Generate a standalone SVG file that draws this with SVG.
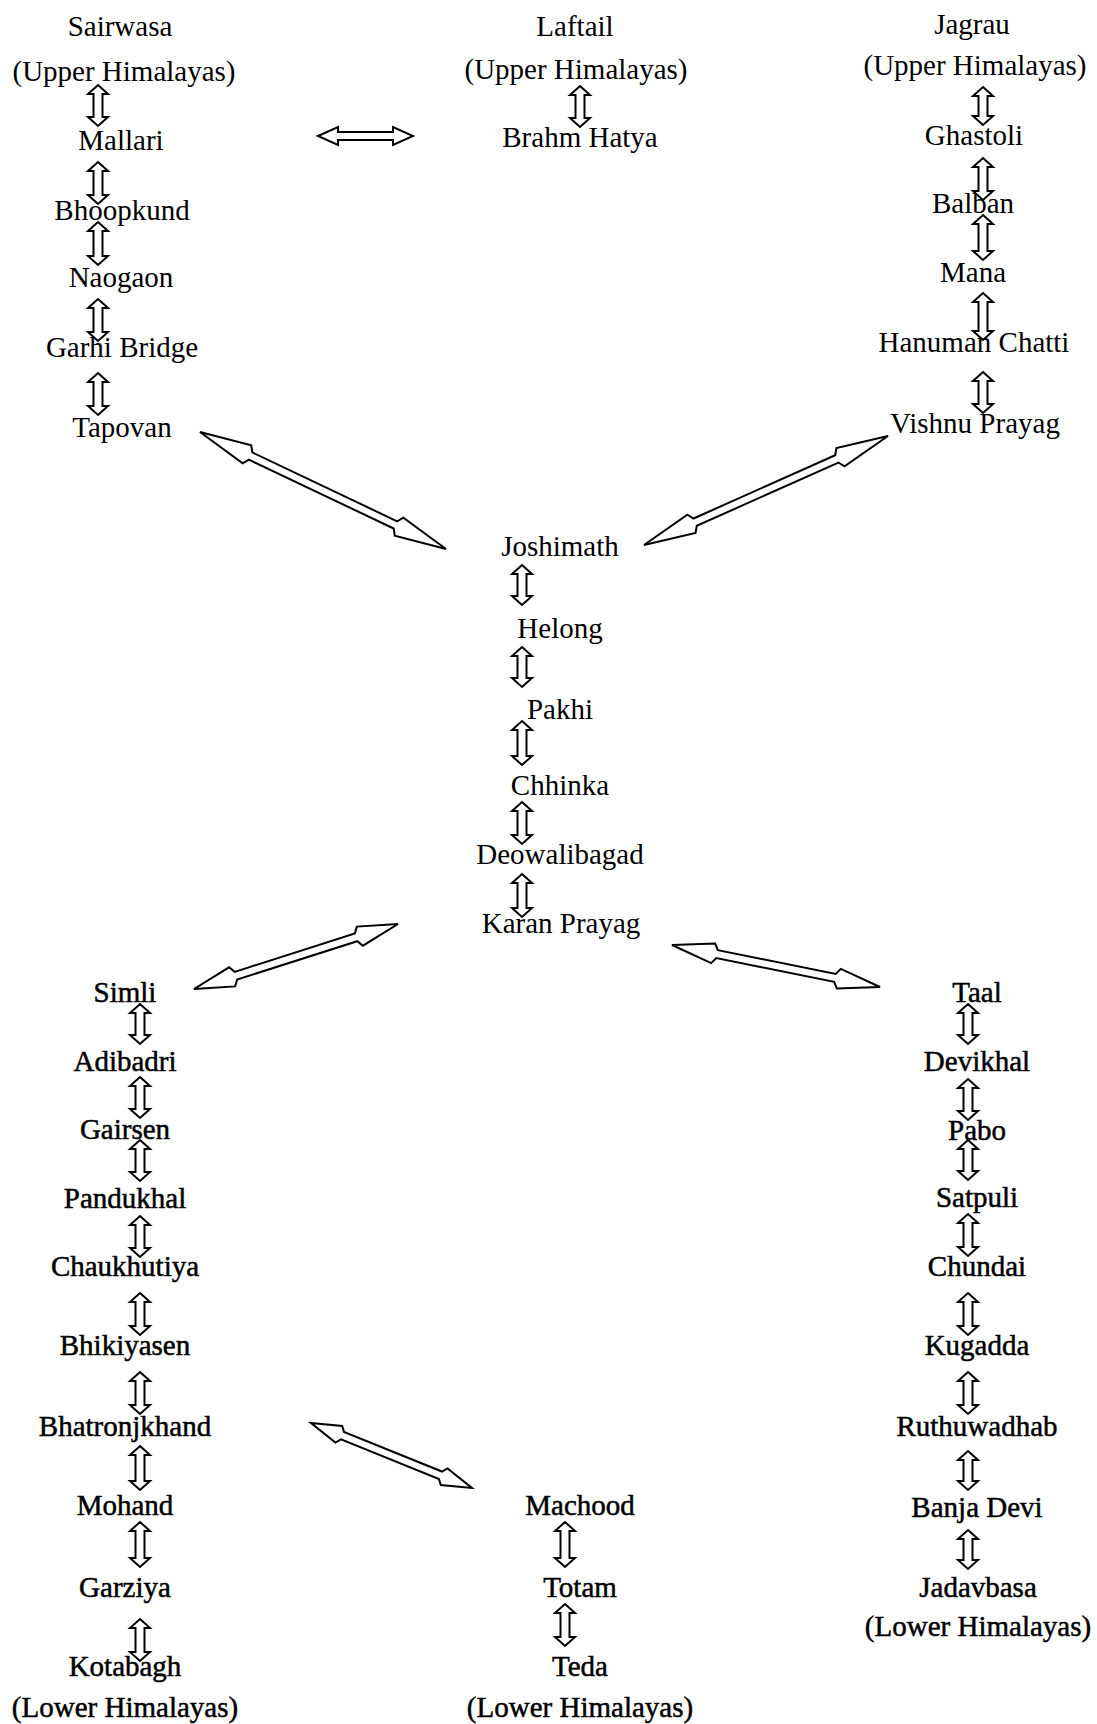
<svg xmlns="http://www.w3.org/2000/svg" width="1097" height="1724" viewBox="0 0 1097 1724">
<style>
text{font-family:"Liberation Serif","Times New Roman",serif;font-size:29px;fill:#000;text-anchor:middle}
.lo{stroke:#000;stroke-width:0.5}
.ar{fill:none;stroke:#000;stroke-width:2;stroke-linejoin:miter}
</style>
<rect width="1097" height="1724" fill="#fff"/>
<g id="connectors" class="ar">
<path d="M98,85 l10,9 h-5.5 v23 h5.5 l-10,9 l-10,-9 h5.5 v-23 h-5.5 z"/>
<path d="M98,162 l10,9 h-5.5 v24 h5.5 l-10,9 l-10,-9 h5.5 v-24 h-5.5 z"/>
<path d="M98,222 l10,9 h-5.5 v25 h5.5 l-10,9 l-10,-9 h5.5 v-25 h-5.5 z"/>
<path d="M98,299 l10,9 h-5.5 v24 h5.5 l-10,9 l-10,-9 h5.5 v-24 h-5.5 z"/>
<path d="M98,373 l10,9 h-5.5 v24 h5.5 l-10,9 l-10,-9 h5.5 v-24 h-5.5 z"/>
<path d="M580,86 l10,9 h-5.5 v23 h5.5 l-10,9 l-10,-9 h5.5 v-23 h-5.5 z"/>
<path d="M983,87 l10,9 h-5.5 v20 h5.5 l-10,9 l-10,-9 h5.5 v-20 h-5.5 z"/>
<path d="M983,158 l10,9 h-5.5 v24 h5.5 l-10,9 l-10,-9 h5.5 v-24 h-5.5 z"/>
<path d="M983,215 l10,9 h-5.5 v27 h5.5 l-10,9 l-10,-9 h5.5 v-27 h-5.5 z"/>
<path d="M983,293 l10,9 h-5.5 v29 h5.5 l-10,9 l-10,-9 h5.5 v-29 h-5.5 z"/>
<path d="M983,372 l10,9 h-5.5 v23 h5.5 l-10,9 l-10,-9 h5.5 v-23 h-5.5 z"/>
<path d="M318,136 l20,-9 v5 h55 v-5 l20,9 l-20,9 v-5 h-55 v5 z"/>
<path d="M522,565 l10,9 h-5.5 v22 h5.5 l-10,9 l-10,-9 h5.5 v-22 h-5.5 z"/>
<path d="M522,647 l10,9 h-5.5 v22 h5.5 l-10,9 l-10,-9 h5.5 v-22 h-5.5 z"/>
<path d="M522,721 l10,9 h-5.5 v26 h5.5 l-10,9 l-10,-9 h5.5 v-26 h-5.5 z"/>
<path d="M522,802 l10,9 h-5.5 v24 h5.5 l-10,9 l-10,-9 h5.5 v-24 h-5.5 z"/>
<path d="M522,874 l10,9 h-5.5 v25 h5.5 l-10,9 l-10,-9 h5.5 v-25 h-5.5 z"/>
<path d="M140,1004 l10,9 h-5.5 v22 h5.5 l-10,9 l-10,-9 h5.5 v-22 h-5.5 z"/>
<path d="M140,1077 l10,9 h-5.5 v23 h5.5 l-10,9 l-10,-9 h5.5 v-23 h-5.5 z"/>
<path d="M140,1140 l10,9 h-5.5 v23 h5.5 l-10,9 l-10,-9 h5.5 v-23 h-5.5 z"/>
<path d="M140,1216 l10,9 h-5.5 v23 h5.5 l-10,9 l-10,-9 h5.5 v-23 h-5.5 z"/>
<path d="M140,1293 l10,9 h-5.5 v24 h5.5 l-10,9 l-10,-9 h5.5 v-24 h-5.5 z"/>
<path d="M140,1372 l10,9 h-5.5 v24 h5.5 l-10,9 l-10,-9 h5.5 v-24 h-5.5 z"/>
<path d="M140,1446 l10,9 h-5.5 v26 h5.5 l-10,9 l-10,-9 h5.5 v-26 h-5.5 z"/>
<path d="M140,1522 l10,9 h-5.5 v27 h5.5 l-10,9 l-10,-9 h5.5 v-27 h-5.5 z"/>
<path d="M140,1619 l10,9 h-5.5 v24 h5.5 l-10,9 l-10,-9 h5.5 v-24 h-5.5 z"/>
<path d="M565,1522 l10,9 h-5.5 v27 h5.5 l-10,9 l-10,-9 h5.5 v-27 h-5.5 z"/>
<path d="M565,1604 l10,9 h-5.5 v24 h5.5 l-10,9 l-10,-9 h5.5 v-24 h-5.5 z"/>
<path d="M968,1004 l10,9 h-5.5 v22 h5.5 l-10,9 l-10,-9 h5.5 v-22 h-5.5 z"/>
<path d="M968,1079 l10,9 h-5.5 v23 h5.5 l-10,9 l-10,-9 h5.5 v-23 h-5.5 z"/>
<path d="M968,1140 l10,9 h-5.5 v22 h5.5 l-10,9 l-10,-9 h5.5 v-22 h-5.5 z"/>
<path d="M968,1214 l10,9 h-5.5 v24 h5.5 l-10,9 l-10,-9 h5.5 v-24 h-5.5 z"/>
<path d="M968,1293 l10,9 h-5.5 v24 h5.5 l-10,9 l-10,-9 h5.5 v-24 h-5.5 z"/>
<path d="M968,1372 l10,9 h-5.5 v24 h5.5 l-10,9 l-10,-9 h5.5 v-24 h-5.5 z"/>
<path d="M968,1451 l10,9 h-5.5 v21 h5.5 l-10,9 l-10,-9 h5.5 v-21 h-5.5 z"/>
<path d="M968,1530 l10,9 h-5.5 v21 h5.5 l-10,9 l-10,-9 h5.5 v-21 h-5.5 z"/>
<path transform="translate(200 432) rotate(25.43)" d="M0,0 L52,-10 L56,-4 L216.4,-4 L220.4,-10 L272.4,0 L220.4,10 L216.4,4 L56,4 L52,10 Z"/>
<path transform="translate(644 545) rotate(-24.07)" d="M0,0 L52,-10 L56,-4 L211.2,-4 L215.2,-10 L267.2,0 L215.2,10 L211.2,4 L56,4 L52,10 Z"/>
<path transform="translate(194 989) rotate(-17.67)" d="M0,0 L40,-10 L44,-4 L170.1,-4 L174.1,-10 L214.1,0 L174.1,10 L170.1,4 L44,4 L40,10 Z"/>
<path transform="translate(672 945) rotate(11.42)" d="M0,0 L42,-10 L46,-4 L166.2,-4 L170.2,-10 L212.2,0 L170.2,10 L166.2,4 L46,4 L42,10 Z"/>
<path transform="translate(311 1423) rotate(21.98)" d="M0,0 L30,-9 L34,-4 L139.6,-4 L143.6,-9 L173.6,0 L143.6,9 L139.6,4 L34,4 L30,9 Z"/>
</g>
<g id="n-sairwasa"><text x="120" y="36">Sairwasa</text><text x="124" y="81">(Upper Himalayas)</text></g>
<g id="n-mallari"><text x="121" y="150">Mallari</text></g>
<g id="n-bhoopkund"><text x="122" y="220">Bhoopkund</text></g>
<g id="n-naogaon"><text x="121" y="287">Naogaon</text></g>
<g id="n-garhi"><text x="122" y="357">Garhi Bridge</text></g>
<g id="n-tapovan"><text x="122" y="437">Tapovan</text></g>
<g id="n-laftail"><text x="575" y="36">Laftail</text><text x="576" y="79">(Upper Himalayas)</text></g>
<g id="n-brahm"><text x="580" y="147">Brahm Hatya</text></g>
<g id="n-jagrau"><text x="972" y="34">Jagrau</text><text x="975" y="75">(Upper Himalayas)</text></g>
<g id="n-ghastoli"><text x="974" y="145">Ghastoli</text></g>
<g id="n-balban"><text x="973" y="213">Balban</text></g>
<g id="n-mana"><text x="973" y="282">Mana</text></g>
<g id="n-hanuman"><text x="974" y="352">Hanuman Chatti</text></g>
<g id="n-vishnu"><text x="975" y="433">Vishnu Prayag</text></g>
<g id="n-joshimath"><text x="560" y="556">Joshimath</text></g>
<g id="n-helong"><text x="560" y="638">Helong</text></g>
<g id="n-pakhi"><text x="560" y="719">Pakhi</text></g>
<g id="n-chhinka"><text x="560" y="795">Chhinka</text></g>
<g id="n-deowali"><text x="560" y="864">Deowalibagad</text></g>
<g id="n-karan"><text x="561" y="933">Karan Prayag</text></g>
<g class="lo">
<g id="n-simli"><text x="125" y="1002">Simli</text></g>
<g id="n-adibadri"><text x="125" y="1071">Adibadri</text></g>
<g id="n-gairsen"><text x="125" y="1139">Gairsen</text></g>
<g id="n-pandukhal"><text x="125" y="1208">Pandukhal</text></g>
<g id="n-chaukhutiya"><text x="125" y="1276">Chaukhutiya</text></g>
<g id="n-bhikiyasen"><text x="125" y="1355">Bhikiyasen</text></g>
<g id="n-bhatronj"><text x="125" y="1436">Bhatronjkhand</text></g>
<g id="n-mohand"><text x="125" y="1515">Mohand</text></g>
<g id="n-garziya"><text x="125" y="1597">Garziya</text></g>
<g id="n-kotabagh"><text x="125" y="1676">Kotabagh</text><text x="125" y="1717">(Lower Himalayas)</text></g>
<g id="n-machood"><text x="580" y="1515">Machood</text></g>
<g id="n-totam"><text x="580" y="1597">Totam</text></g>
<g id="n-teda"><text x="580" y="1676">Teda</text><text x="580" y="1717">(Lower Himalayas)</text></g>
<g id="n-taal"><text x="977" y="1002">Taal</text></g>
<g id="n-devikhal"><text x="977" y="1071">Devikhal</text></g>
<g id="n-pabo"><text x="977" y="1140">Pabo</text></g>
<g id="n-satpuli"><text x="977" y="1207">Satpuli</text></g>
<g id="n-chundai"><text x="977" y="1276">Chundai</text></g>
<g id="n-kugadda"><text x="977" y="1355">Kugadda</text></g>
<g id="n-ruthu"><text x="977" y="1436">Ruthuwadhab</text></g>
<g id="n-banja"><text x="977" y="1517">Banja Devi</text></g>
<g id="n-jadav"><text x="978" y="1597">Jadavbasa</text><text x="978" y="1636">(Lower Himalayas)</text></g>
</g>
</svg>
